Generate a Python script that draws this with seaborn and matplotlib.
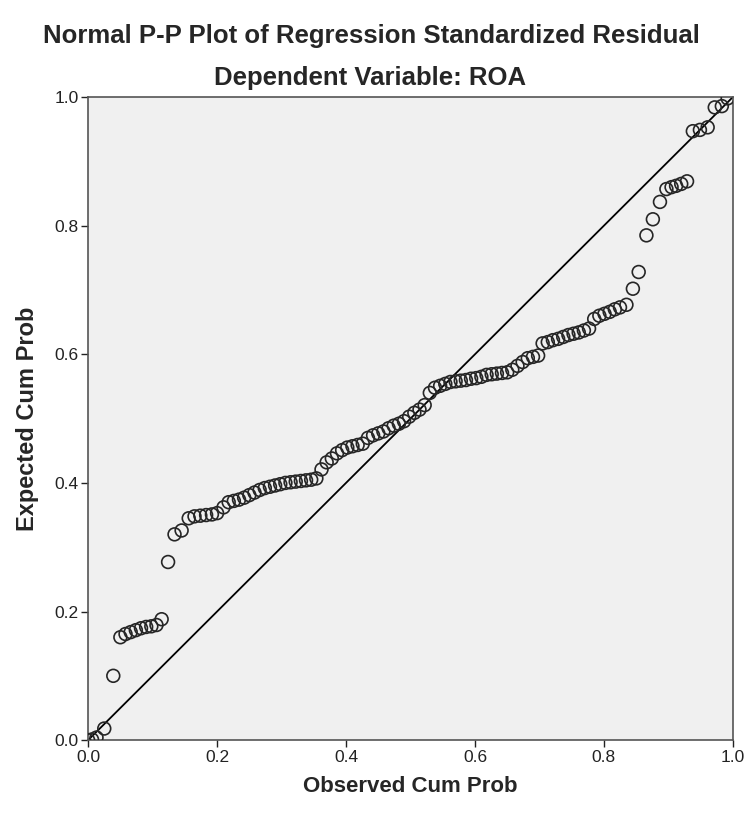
import matplotlib
matplotlib.use("Agg")
import matplotlib.pyplot as plt
import seaborn as sns
import pandas as pd

# Observed vs expected cumulative probabilities
observed = [0.000, 0.006, 0.013, 0.025, 0.039, 0.050, 0.058, 0.066, 0.074, 0.082,
            0.090, 0.098, 0.106, 0.114, 0.124, 0.134, 0.145, 0.156, 0.165, 0.174,
            0.183, 0.192, 0.200, 0.210, 0.218, 0.226, 0.234, 0.242, 0.250, 0.258,
            0.266, 0.274, 0.282, 0.290, 0.298, 0.306, 0.314, 0.322, 0.330, 0.338,
            0.346, 0.354, 0.362, 0.370, 0.378, 0.386, 0.394, 0.402, 0.410, 0.418,
            0.426, 0.434, 0.442, 0.450, 0.458, 0.466, 0.474, 0.482, 0.490, 0.498,
            0.506, 0.514, 0.522, 0.530, 0.538, 0.546, 0.554, 0.562, 0.570, 0.578,
            0.586, 0.594, 0.602, 0.610, 0.618, 0.626, 0.634, 0.642, 0.650, 0.658,
            0.666, 0.674, 0.682, 0.690, 0.698, 0.705, 0.713, 0.721, 0.729, 0.737,
            0.745, 0.753, 0.761, 0.769, 0.777, 0.785, 0.793, 0.801, 0.809, 0.817,
            0.825, 0.835, 0.845, 0.854, 0.866, 0.876, 0.887, 0.897, 0.905, 0.912,
            0.920, 0.929, 0.938, 0.949, 0.961, 0.972, 0.983, 0.992]
expected = [0.000, 0.001, 0.004, 0.018, 0.100, 0.160, 0.165, 0.168, 0.171, 0.174,
            0.176, 0.177, 0.179, 0.188, 0.277, 0.320, 0.326, 0.345, 0.348, 0.349,
            0.350, 0.351, 0.353, 0.362, 0.370, 0.372, 0.374, 0.377, 0.381, 0.385,
            0.389, 0.392, 0.394, 0.396, 0.398, 0.400, 0.401, 0.402, 0.403, 0.404,
            0.405, 0.407, 0.421, 0.432, 0.438, 0.446, 0.451, 0.455, 0.457, 0.459,
            0.461, 0.470, 0.474, 0.477, 0.480, 0.485, 0.489, 0.492, 0.496, 0.503,
            0.509, 0.514, 0.521, 0.540, 0.548, 0.551, 0.554, 0.557, 0.558, 0.559,
            0.560, 0.562, 0.563, 0.565, 0.568, 0.569, 0.570, 0.571, 0.572, 0.576,
            0.582, 0.588, 0.594, 0.596, 0.598, 0.617, 0.619, 0.622, 0.624, 0.627,
            0.630, 0.632, 0.634, 0.637, 0.640, 0.655, 0.660, 0.663, 0.666, 0.670,
            0.673, 0.677, 0.702, 0.728, 0.785, 0.810, 0.837, 0.857, 0.860, 0.862,
            0.865, 0.869, 0.947, 0.949, 0.953, 0.984, 0.986, 0.998]
ticks = [0.0, 0.2, 0.4, 0.6, 0.8, 1.0]

df = pd.DataFrame({"observed": observed, "expected": expected})

sns.set_style("ticks")
plt.rcParams["font.family"] = ["Liberation Sans", "DejaVu Sans"]

fig = plt.figure(figsize=(7.47, 8.16), dpi=100)
ax = fig.add_axes([0.118, 0.093, 0.863, 0.788])
ax.set_facecolor("#f0f0f0")

# reference diagonal
ax.axline((0, 0), slope=1, color="black", lw=1.3, zorder=2)

sns.scatterplot(data=df, x="observed", y="expected", ax=ax, s=85,
                facecolor="none", edgecolor="#262626", linewidth=1.2, zorder=3)

ax.set_xlim(0, 1)
ax.set_ylim(0, 1)
ax.set_xticks(ticks)
ax.set_yticks(ticks)
ax.set_xticklabels([f"{t:.1f}" for t in ticks])
ax.set_yticklabels([f"{t:.1f}" for t in ticks])
ax.tick_params(labelsize=12.5, colors="#222222", length=5, width=1, direction="out", pad=2)
for sp in ax.spines.values():
    sp.set_color("#555555")
    sp.set_linewidth(1.2)

ax.set_xlabel("Observed Cum Prob", fontsize=16, fontweight="bold", labelpad=8)
ax.set_ylabel("Expected Cum Prob", fontsize=17, fontweight="bold", labelpad=11)

fig.text(0.497, 0.956, "Normal P-P Plot of Regression Standardized Residual",
         ha="center", va="center", fontsize=18.5, fontweight="bold")
fig.text(0.496, 0.905, "Dependent Variable: ROA",
         ha="center", va="center", fontsize=18.5, fontweight="bold")

fig.savefig("out.png", dpi=100, facecolor="white")
